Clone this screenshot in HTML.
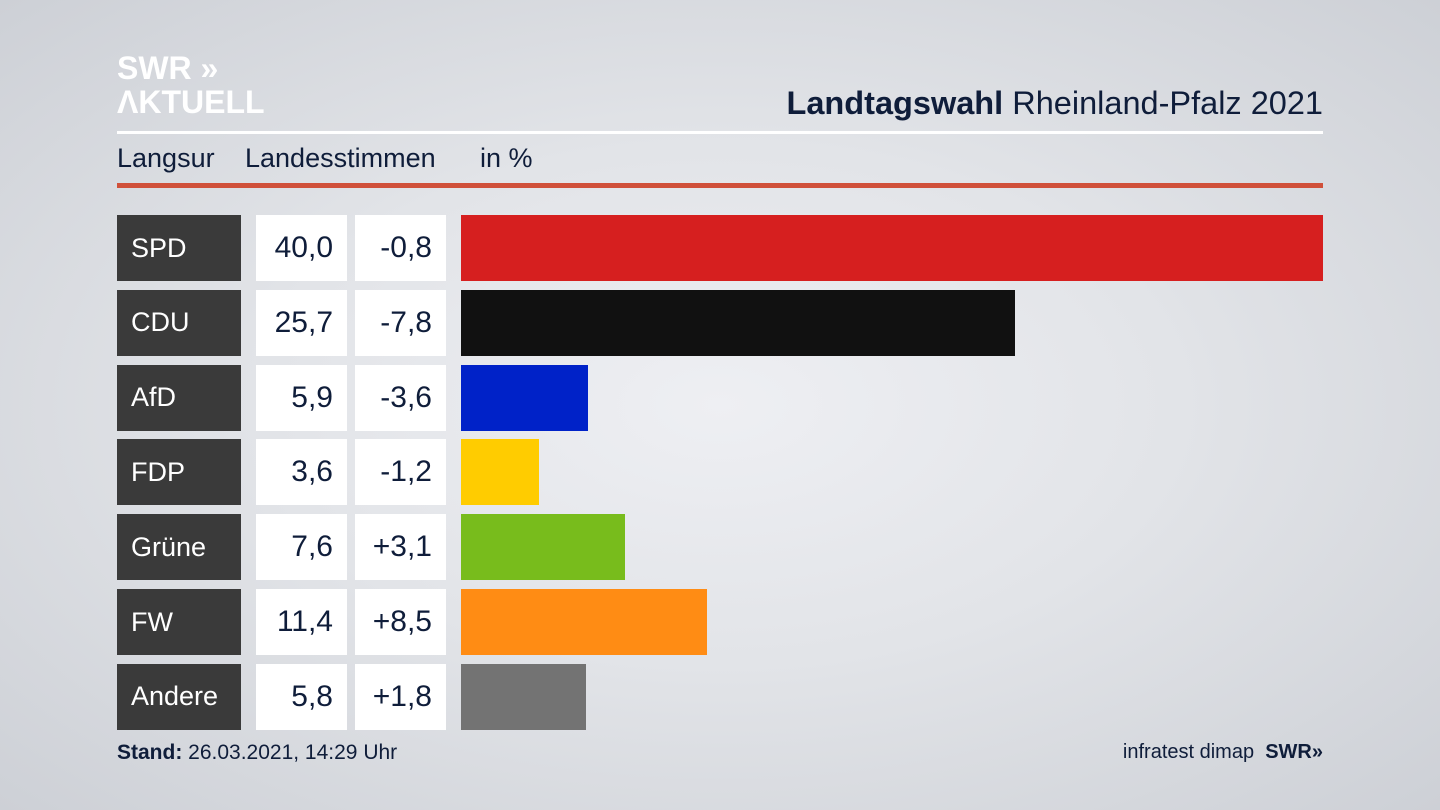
<!DOCTYPE html>
<html><head><meta charset="utf-8">
<style>
body{margin:0;width:1440px;height:810px;overflow:hidden;font-family:"Liberation Sans","DejaVu Sans",sans-serif;
background:radial-gradient(ellipse at 50% 50%,#eeeff3 0%,#e2e4e8 45%,#cdd0d6 100%);position:relative;color:#0f1d3a}
.abs{position:absolute}
.lab{background:#3a3a3a;color:#fff;font-size:27px;box-sizing:border-box;padding-left:14px;display:flex;align-items:center}
.val{background:#fff;font-size:30px;box-sizing:border-box;padding-right:14px;display:flex;align-items:center;justify-content:flex-end}
.sub{position:absolute;top:143px;font-size:27px;white-space:nowrap}
</style></head><body>
<div class="abs" style="left:117px;top:51px;color:#fff;font-weight:bold;font-size:32px;line-height:34px">SWR »<br>ΛKTUELL</div>
<div class="abs" style="right:117px;top:85px;font-size:32.5px;white-space:nowrap"><b>Landtagswahl</b> Rheinland-Pfalz 2021</div>
<div class="abs" style="left:117px;top:131px;width:1206px;height:3px;background:#fff"></div>
<div class="sub" style="left:117px">Langsur</div>
<div class="sub" style="left:245px">Landesstimmen</div>
<div class="sub" style="left:480px">in %</div>
<div class="abs" style="left:117px;top:183px;width:1206px;height:5px;background:#d0503a"></div>
<div id="chart"></div>
<div class="abs" style="left:117px;top:741px;font-size:21px;white-space:nowrap"><b>Stand:</b> 26.03.2021, 14:29 Uhr</div>
<div class="abs" style="right:117px;top:741px;font-size:20px;white-space:nowrap">infratest dimap&nbsp;&nbsp;<b>SWR»</b></div>
<script>
const parties=["SPD","CDU","AfD","FDP","Grüne","FW","Andere"];
const shares=[40.0,25.7,5.9,3.6,7.6,11.4,5.8];
const changes=["-0,8","-7,8","-3,6","-1,2","+3,1","+8,5","+1,8"];
const colors=["#d61f1f","#111111","#0022c8","#ffcc00","#78bc1c","#ff8c14","#737373"];
const x0=461,pxPer=862/40,y0=215,pitch=74.8,h=66;
const c=document.getElementById('chart');
function fmt(v){return v.toFixed(1).replace('.',',');}
parties.forEach((p,i)=>{
  const y=y0+i*pitch;
  const a=document.createElement('div');a.className='abs lab';
  
  
  a.style.cssText=`left:117px;top:${y}px;width:124px;height:${h}px`;a.textContent=p;c.appendChild(a);
  const v=document.createElement('div');v.className='abs val';
  
  
  v.style.cssText=`left:256px;top:${y}px;width:91px;height:${h}px`;v.textContent=fmt(shares[i]);c.appendChild(v);
  const d=document.createElement('div');d.className='abs val';
  
  
  d.style.cssText=`left:355px;top:${y}px;width:91px;height:${h}px`;d.textContent=changes[i];c.appendChild(d);
  const b=document.createElement('div');b.className='abs';
  
  
  b.style.cssText=`left:${x0}px;top:${y}px;width:${shares[i]*pxPer}px;height:${h}px;background:${colors[i]}`;c.appendChild(b);
});
</script>
</body></html>
